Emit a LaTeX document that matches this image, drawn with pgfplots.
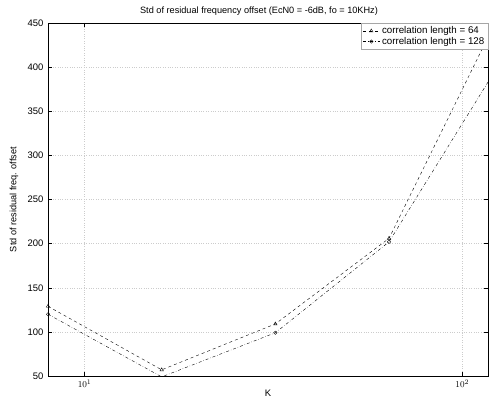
\documentclass[border=0pt]{standalone}
\usepackage{fontspec}
\setmainfont{Liberation Sans}
\usepackage{pgfplots}
\pgfplotsset{compat=1.18}
\begin{document}
\begin{tikzpicture}
\begin{axis}[
  name=ax,
  scale only axis,
  width=440bp, height=353bp,
  xmode=log, log basis x=10,
  xmin=8, xmax=117,
  ymin=50, ymax=450,
  ytick={50,100,...,450},
  xtick={10,100},
  xticklabels={$10^1$,$10^2$},
  tick align=inside,
  tick style={black, thin},
  grid=major,
  major grid style={dotted, gray!40},
  axis line style={black, thin},
  tick label style={font=\fontsize{9.5}{11}\selectfont},
  yticklabel style={xshift=-1bp},
  /pgf/number format/assume math mode=true,
  title={Std of residual frequency offset (EcN0 = -6dB, fo = 10KHz)},
  title style={font=\fontsize{9.2}{11}\selectfont, at={(0.5,1)}, anchor=center, yshift=6bp, xshift=-9bp},
  xlabel={K},
  xlabel style={font=\fontsize{9.5}{11}\selectfont, at={(0.5,0)}, anchor=center, yshift=-17bp},
  ylabel={Std of residual freq. offset},
  every axis y label/.style={at={(axis description cs:-0.0773,0.5)}, anchor=center, rotate=90, font=\fontsize{9.2}{11}\selectfont},
  legend cell align=left,
  legend style={draw=gray!70, thin, font=\fontsize{9.8}{11}\selectfont, inner sep=1.5pt, row sep=-2pt, at={(1,1)}, anchor=north east},
  clip=true,
]
\addplot[black, thin, dashed, mark=triangle, mark options={solid, scale=1.0}] coordinates {
  (8,129) (16,57) (32,109) (64,206) (128,468)
};
\addlegendentry{correlation length = 64}
\addplot[black, thin, dash dot, mark=o, mark options={solid, scale=0.85}] coordinates {
  (8,120) (16,49) (32,99) (64,202) (128,410)
};
\addlegendentry{correlation length = 128}
\end{axis}
\pgfresetboundingbox
\path ([xshift=-48bp,yshift=-29bp]ax.south west) rectangle ([xshift=2bp,yshift=23bp]ax.north east);
\end{tikzpicture}
\end{document}
